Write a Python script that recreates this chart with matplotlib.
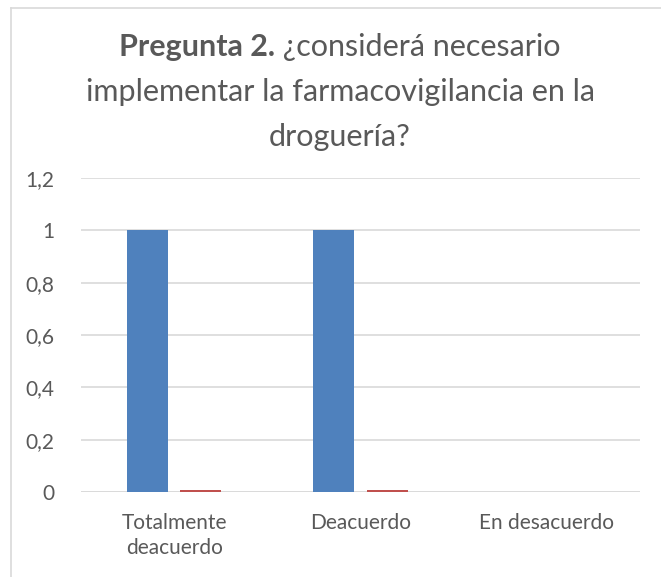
import matplotlib
matplotlib.use("Agg")
import matplotlib.pyplot as plt
from matplotlib.lines import Line2D
import numpy as np

categories = ["Totalmente\ndeacuerdo", "Deacuerdo", "En desacuerdo"]
series_blue = [1, 1, 0]
series_red = [0.008, 0.008, 0]
yticks = [0, 0.2, 0.4, 0.6, 0.8, 1, 1.2]
ytick_labels = ["0", "0,2", "0,4", "0,6", "0,8", "1", "1,2"]

W, H = 661, 577
fig = plt.figure(figsize=(W / 100, H / 100), dpi=100)
plt.rcParams['font.family'] = ['Lato', 'DejaVu Sans']
text_color = "#595959"
grid_color = "#d9d9d9"

# chart border (top and left visible)
fig.add_artist(Line2D([11 / W, 11 / W], [0, 1 - 8 / H], transform=fig.transFigure, color=grid_color, lw=1.2))
fig.add_artist(Line2D([11 / W, 1], [1 - 8 / H, 1 - 8 / H], transform=fig.transFigure, color=grid_color, lw=1.2))

left, right = 81 / W, 640 / W
bottom, top = 1 - 492 / H, 1 - 178 / H
ax = fig.add_axes([left, bottom, right - left, top - bottom])

x = np.arange(len(categories))
bw = 0.22
off = 0.1425
ax.bar(x - off, series_blue, width=bw, color="#4f81bd", zorder=3)
ax.bar(x + off, series_red, width=bw, color="#c0504d", zorder=3)

ax.set_xlim(-0.5, len(categories) - 0.5)
ax.set_ylim(0, 1.2)
ax.set_yticks(yticks)
ax.set_yticklabels(ytick_labels)
ax.set_xticks(x)
ax.set_xticklabels(categories, linespacing=1.3)
ax.yaxis.grid(True, color=grid_color, lw=1.2, zorder=0)
ax.tick_params(axis='both', length=0, labelsize=15, colors=text_color)
ax.tick_params(axis='y', pad=19)
ax.tick_params(axis='x', pad=15)
for s in ax.spines.values():
    s.set_visible(False)
ax.axhline(0, color=grid_color, lw=1.2, zorder=2)

# title with mixed weights
fig.canvas.draw()
r = fig.canvas.get_renderer()
fs = 22
cx = 340 / W
t1a = fig.text(0, 0, "Pregunta 2.", fontsize=fs, fontweight='bold', color=text_color)
t1b = fig.text(0, 0, " ¿considerá necesario", fontsize=fs, color=text_color)
wa = t1a.get_window_extent(r).width / W
wb = t1b.get_window_extent(r).width / W
x0 = cx - (wa + wb) / 2
y1 = 1 - 47 / H
t1a.set_position((x0, y1)); t1a.set_va('center')
t1b.set_position((x0 + wa, y1)); t1b.set_va('center')
fig.text(cx, 1 - 92 / H, "implementar la farmacovigilancia en la", fontsize=fs, color=text_color, ha='center', va='center')
fig.text(cx, 1 - 137 / H, "droguería?", fontsize=fs, color=text_color, ha='center', va='center')

fig.savefig("out.png", dpi=100)
